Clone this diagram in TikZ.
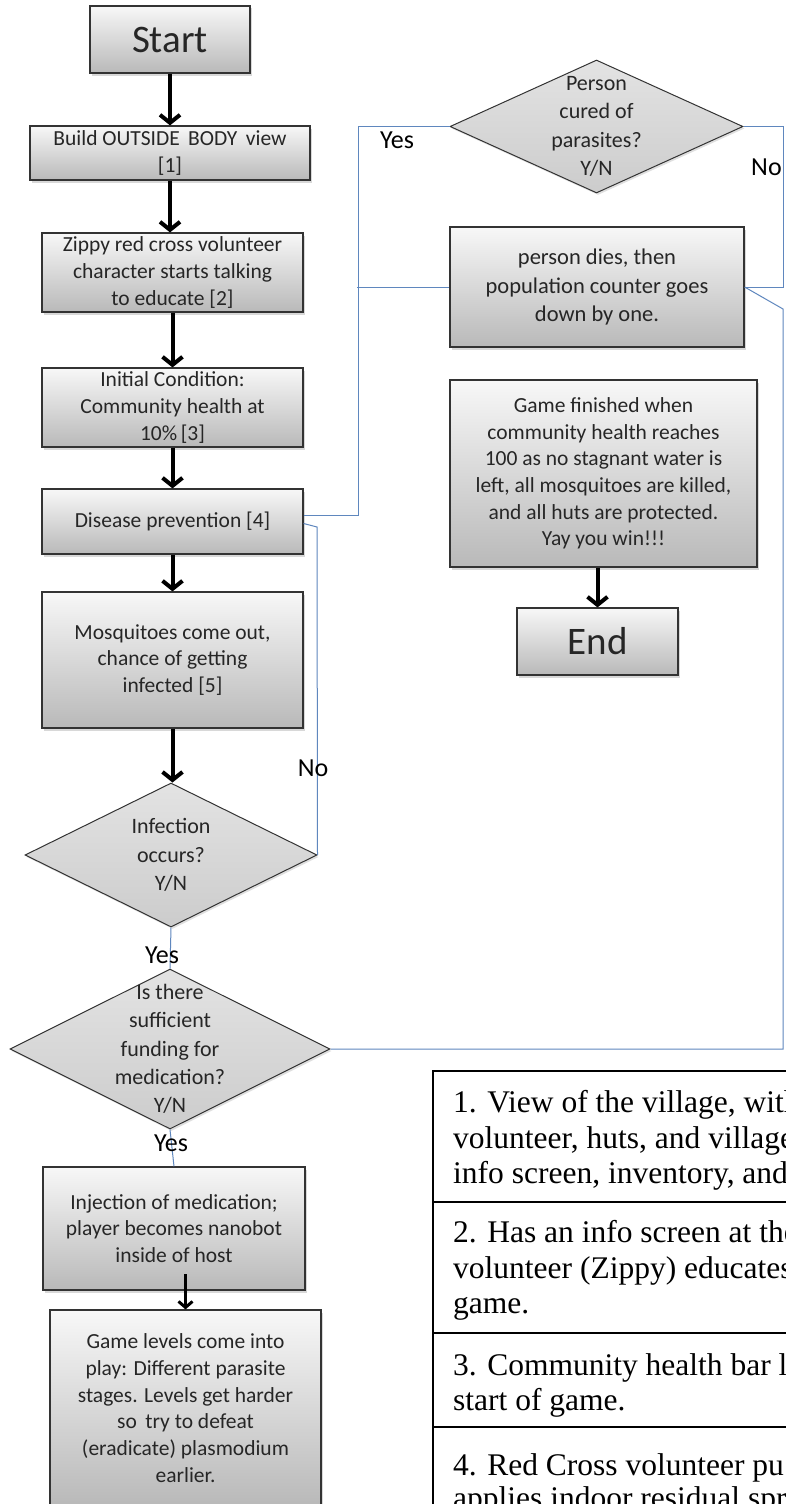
\documentclass[tikz,border=0pt]{standalone}
\usepackage{fontspec}
\setmainfont{Carlito}
\newfontfamily\tnr{Liberation Serif}
\usetikzlibrary{arrows.meta,shadows,shapes.geometric}
\begin{document}
\begin{tikzpicture}[x=1pt,y=-1pt,
  box/.style={draw=black!80, line width=1.2pt, top color=gray!6, bottom color=gray!55,
    drop shadow={shadow xshift=2pt,shadow yshift=-2.5pt,opacity=0.3},
    inner sep=0pt, align=center, text=black!85,
    font=\fontsize{21.5}{26.7}\selectfont},
  dia/.style={shape=diamond, draw=black!80, line width=1pt, top color=gray!22, bottom color=gray!40,
    drop shadow={shadow xshift=1.5pt,shadow yshift=-2pt,opacity=0.25}, inner sep=0pt},
  diatext/.style={align=center, inner sep=0pt, text=black!85, font=\fontsize{22}{28.3}\selectfont},
  bigtext/.style={font=\fontsize{39}{44}\selectfont},
  bigarrow/.style={line width=4pt, -{Straight Barb[length=8pt,width=20pt,line width=4pt]}},
  smallarrow/.style={line width=3pt, -{Straight Barb[length=6pt,width=14pt,line width=3pt]}},
  blueline/.style={draw={rgb,255:red,95;green,135;blue,190}, line width=1pt},
  lbl/.style={inner sep=0pt, font=\fontsize{26}{30}\selectfont},
  tbl/.style={line width=1.5pt, draw=black},
  ttext/.style={anchor=base west, inner sep=0pt, font=\tnr\fontsize{31.5}{36}\selectfont}
]
\useasboundingbox[fill=white] (0,0) rectangle (785,1504);

% left column
\node[box, bigtext, minimum width=160pt, minimum height=67pt] (start) at (170,39.5) {Start};
\node[box, minimum width=280pt, minimum height=54pt] (build) at (170,153) {Build OUTSIDE\, BODY\, view\\{[1]}};
\node[box, minimum width=261pt, minimum height=79pt] (zippy) at (172.5,272.5) {Zippy red cross volunteer\\character starts talking\\to educate [2]};
\node[box, minimum width=261pt, minimum height=79pt] (init) at (172.5,407.5) {Initial Condition:\\Community health at\\10\%\,[3]};
\node[box, minimum width=261pt, minimum height=65pt] (prev) at (172.5,521.5) {Disease prevention [4]};
\node[box, minimum width=261pt, minimum height=136pt] (mosq) at (172.5,660) {Mosquitoes come out,\\chance of getting\\infected [5]};
\node[dia, minimum width=292pt, minimum height=144pt] (inf) at (171,855) {};
\node[diatext] (inft) at (inf.center) {Infection\\occurs?\\Y/N};
\node[dia, minimum width=320pt, minimum height=160pt] (fund) at (170,1049) {};
\node[diatext] (fundt) at (fund.center) {Is there\\sufficient\\funding for\\medication?\\Y/N};
\node[box, minimum width=262pt, minimum height=123pt] (inj) at (174,1228.5) {Injection of medication;\\player becomes nanobot\\inside of host};
\node[box, minimum width=271pt, minimum height=196pt] (lev) at (185.5,1408) {Game levels come into\\play: Different parasite\\stages. Levels get harder\\so\, try to defeat\\(eradicate) plasmodium\\earlier.};

% right column
\node[dia, minimum width=293pt, minimum height=133pt] (cured) at (596.5,126.5) {};
\node[diatext] (curedt) at (cured.center) {Person\\cured of\\parasites?\\Y/N};
\node[box, minimum width=294pt, minimum height=120pt, font=\fontsize{22.5}{28.3}\selectfont] (dies) at (597,287) {person dies, then\\population counter goes\\down by one.};
\node[box, minimum width=307pt, minimum height=187pt] (fin) at (603.5,473.5) {Game finished when\\community health reaches\\100 as no stagnant water is\\left, all mosquitoes are killed,\\and all huts are protected.\\Yay you win!!!};
\node[box, bigtext, minimum width=161pt, minimum height=67pt] (end) at (597.5,641.5) {End};

% black arrows
\draw[bigarrow] (start.south) -- (start.south |- build.north);
\draw[bigarrow] (build.south) -- (build.south |- zippy.north);
\draw[bigarrow] (zippy.south) -- (zippy.south |- init.north);
\draw[bigarrow] (init.south) -- (init.south |- prev.north);
\draw[bigarrow] (prev.south) -- (prev.south |- mosq.north);
\draw[bigarrow] (mosq.south) -- (mosq.south |- inf.north);
\draw[smallarrow] ([yshift=35pt]lev.north) -- (lev.north);
\draw[bigarrow] (end.north |- fin.south) -- (end.north);

% blue connectors
\coordinate (jn) at (357,287);
\coordinate (r1) at (783,309);
\coordinate (r2) at (783,1049);
\coordinate (nk) at (317,527);
\draw[blueline] ([yshift=6pt]prev.east) -- ++(54.5,0) |- (cured.west);
\draw[blueline] (jn) -- (dies.west);
\draw[blueline] (cured.east) -- ++(40,0) |- (dies.east);
\draw[blueline] (dies.east) -- (r1) -- (r2) -- (fund.east);
\draw[blueline] ([yshift=-2pt]prev.east) -- (nk) -- (inf.east);
\draw[blueline] (inf.south) -- (fund.north);
\draw[blueline] (fund.south) -- (inj.north);

% labels
\node[lbl] (ly1) at (397,140) {Yes};
\node[lbl, anchor=west] (ln1) at (751,167) {No};
\node[lbl] (ln2) at (313,768) {No};
\node[lbl] (ly2) at (162,955) {Yes};
\node[lbl] (ly3) at (171,1143) {Yes};

% table
\draw[tbl] (800,1071) -- (433,1071) -- (433,1515);
\draw[tbl] (433,1202) -- (800,1202);
\draw[tbl] (433,1333) -- (800,1333);
\draw[tbl] (433,1427) -- (800,1427);
\node[ttext] (t1) at (453,1112) {1. View of the village, with};
\node[ttext] (t2) at (453,1148) {volunteer, huts, and village};
\node[ttext] (t3) at (453,1183) {info screen, inventory, and};
\node[ttext] (t4) at (453,1242) {2. Has an info screen at the};
\node[ttext] (t5) at (453,1278) {volunteer (Zippy) educates};
\node[ttext] (t6) at (453,1313) {game.};
\node[ttext] (t7) at (453,1375) {3. Community health bar l};
\node[ttext] (t8) at (453,1410) {start of game.};
\node[ttext] (t9) at (453,1475) {4. Red Cross volunteer pu};
\node[ttext] (t10) at (453,1508) {applies indoor residual spr};
\end{tikzpicture}
\end{document}
